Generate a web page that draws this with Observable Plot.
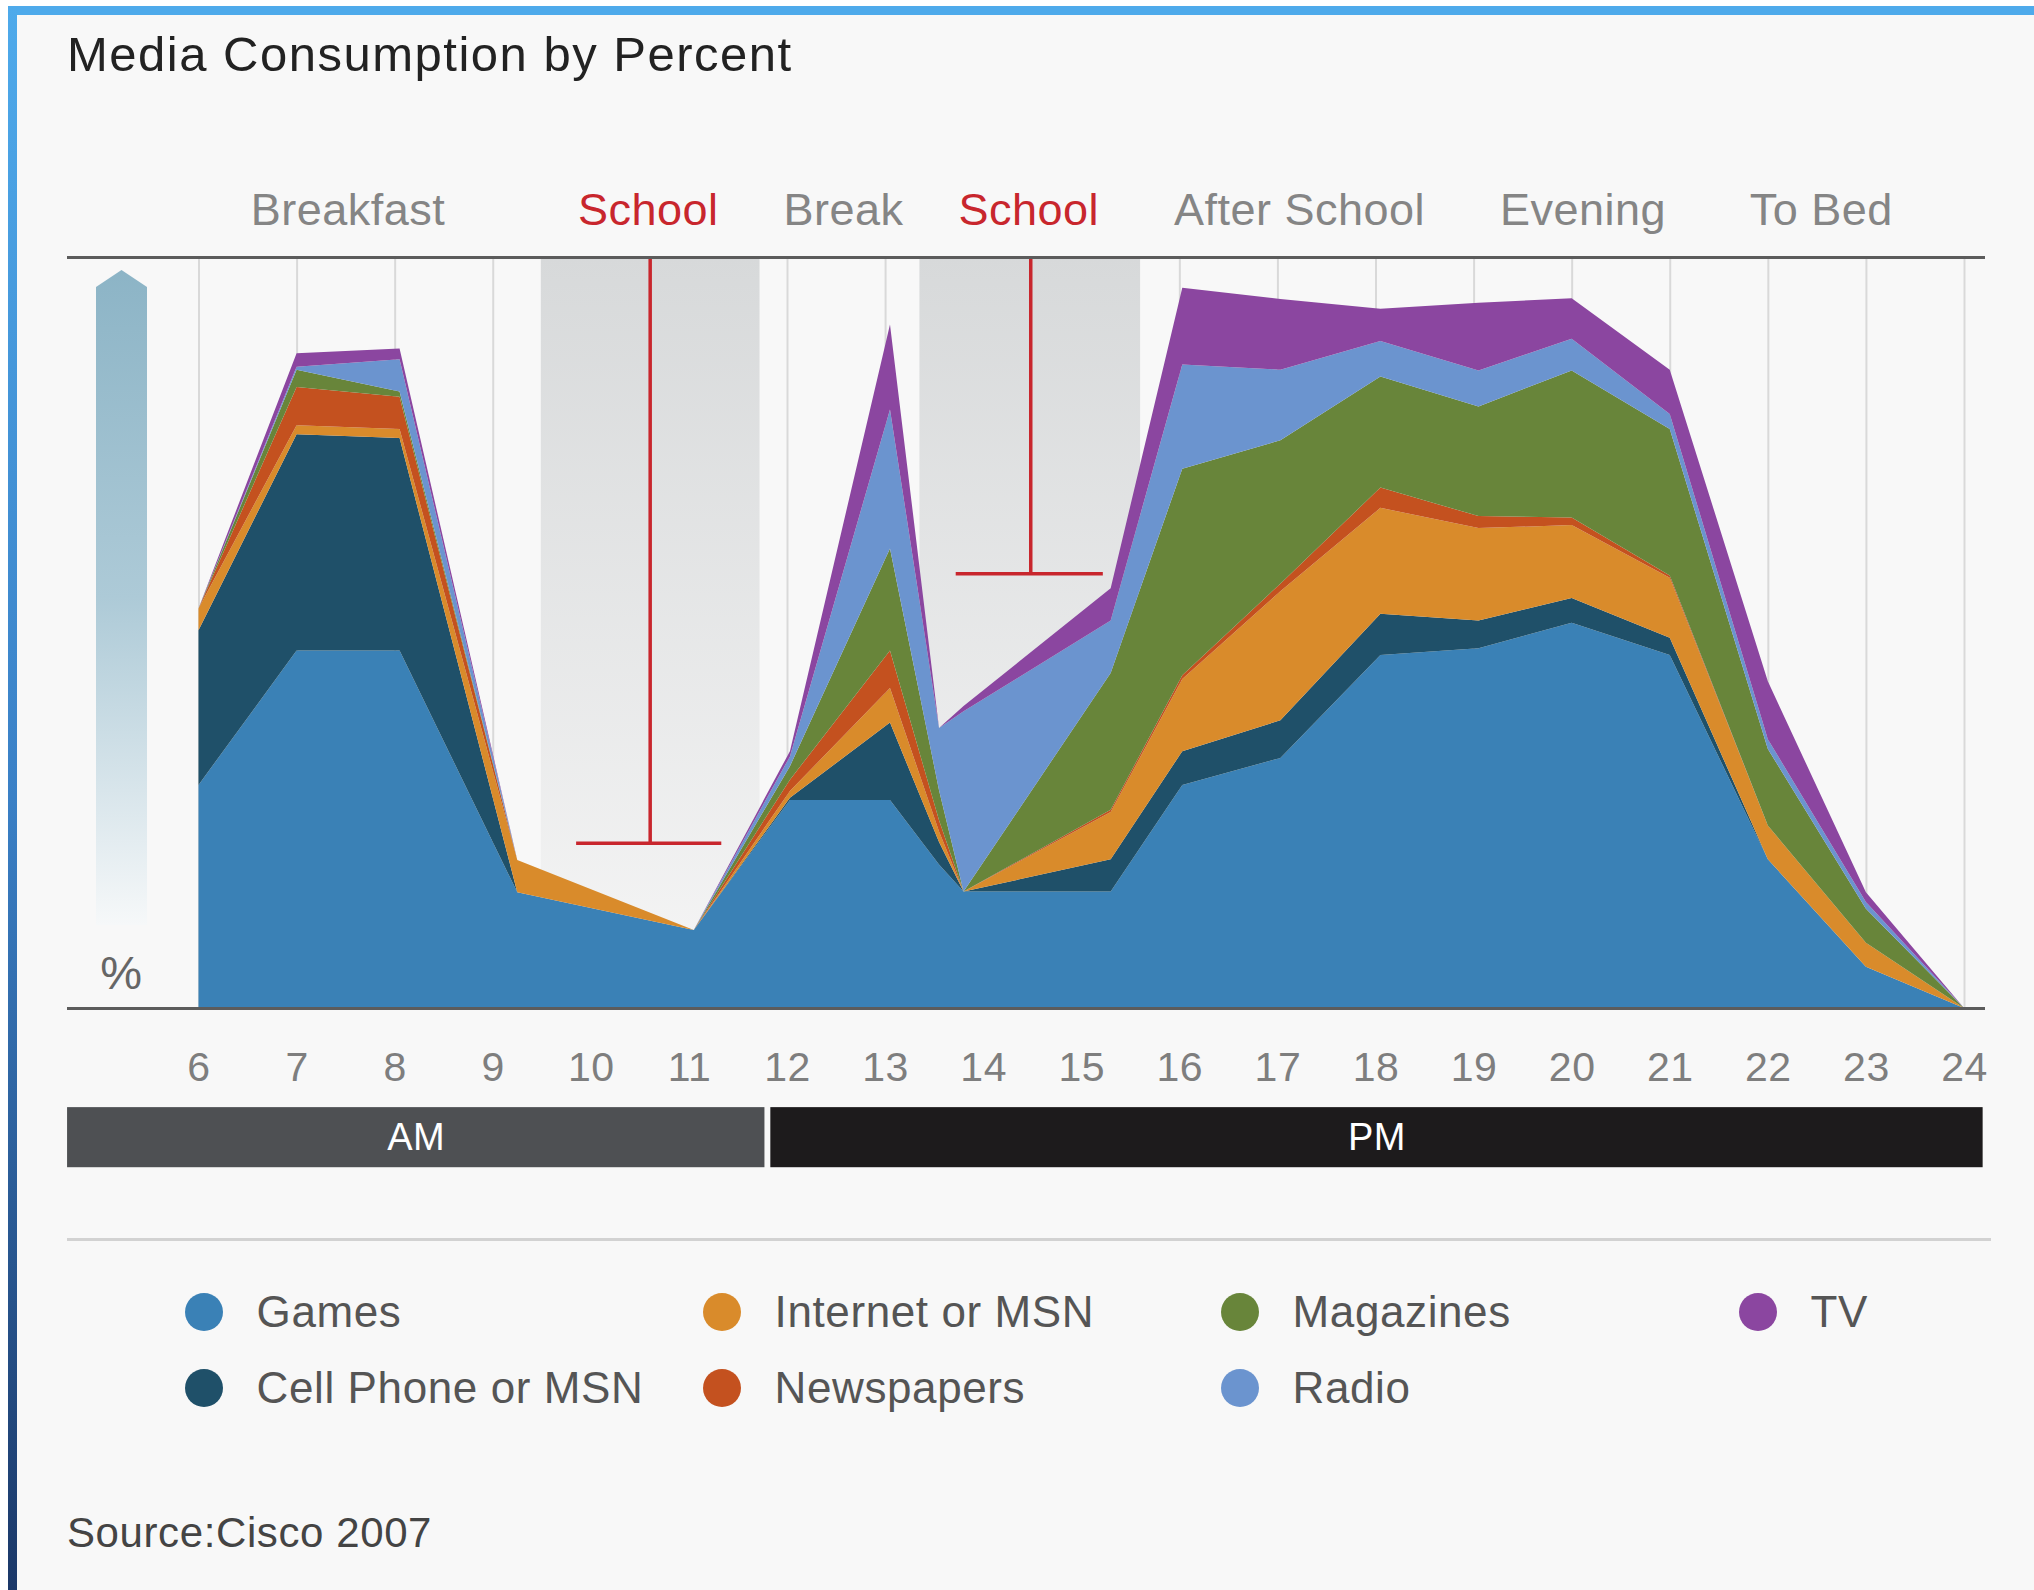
<!DOCTYPE html>
<html>
<head>
<meta charset="utf-8">
<script src="https://cdn.jsdelivr.net/npm/d3@7"></script>
<script src="https://cdn.jsdelivr.net/npm/@observablehq/plot@0.6"></script>
<style>
html, body { margin: 0; padding: 0; background: #ffffff; overflow: hidden; }
#page { position: relative; width: 2034px; height: 1590px; font-family: "Liberation Sans", Arial, Helvetica, sans-serif; }
#panel { position: absolute; left: 17px; top: 15px; right: 0; bottom: 0; background: #f8f8f8; }
#topbar { position: absolute; left: 8px; top: 6px; right: 0; height: 9px; background: #4eaaeb; }
#leftbar { position: absolute; left: 8px; top: 6px; width: 9px; bottom: 0; background: linear-gradient(#4eaaeb, #3a80c6 50%, #1b3868); }
#title { position: absolute; left: 67px; top: 29.5px; font-size: 49px; line-height: 49px; letter-spacing: 1.5px; color: #222; white-space: nowrap; }
#chart { position: absolute; left: 0; top: 150px; }
#arrow { position: absolute; left: 96px; top: 270px; width: 51px; height: 655px;
  clip-path: polygon(50% 0, 100% 17px, 100% 100%, 0 100%, 0 17px);
  background: linear-gradient(#8cb4c6, #adcad7 50%, #f6f8f9); }
#sep { position: absolute; left: 67px; width: 1924px; top: 1238px; height: 3px; background: #d2d2d2; }
.item { position: absolute; display: flex; align-items: center; height: 50px; white-space: nowrap; }
.dot { width: 38px; height: 38px; border-radius: 50%; margin-right: 34px; flex: none; }
.lab { font-size: 44px; line-height: 50px; letter-spacing: 0.6px; color: #555; }
#source { position: absolute; left: 67px; top: 1512px; font-size: 42px; line-height: 42px; letter-spacing: 0.6px; color: #444; white-space: nowrap; }
</style>
</head>
<body>
<svg width="0" height="0" style="position:absolute">
  <defs>
    <linearGradient id="bandGrad" x1="0" y1="0" x2="0" y2="1">
      <stop offset="0" stop-color="#d7d9da"/>
      <stop offset="1" stop-color="#f6f6f6"/>
    </linearGradient>
  </defs>
</svg>
<div id="page">
  <div id="panel"></div>
  <div id="topbar"></div>
  <div id="leftbar"></div>
  <div id="title">Media Consumption by Percent</div>
  <div id="arrow"></div>
  <div id="chart"></div>
  <div id="sep"></div>
  <div id="legend"></div>
  <div id="source">Source:Cisco 2007</div>
</div>
<script>
// ---- data ----
const hours     = [6,    7,    8.05, 9.25, 11.05, 12.03, 13.05, 13.55, 13.8, 15.3, 16.03, 17.03, 18.05, 19.05, 20,   21,   22,   23,  24];
const games     = [29.7, 47.6, 47.6, 15.4, 10.4,  27.7,  27.7,  19.1,  15.5, 15.5, 29.7,  33.3,  47.0,  47.9,  51.3, 47.0, 19.8, 5.5, 0];
const cellPhone = [20.6, 28.8, 28.3, 0,    0,     0.3,   10.3,  3.0,   0,    4.3,  4.5,   5.0,   5.5,   3.7,   3.3,  2.3,  0,    0,   0];
const internet  = [2.9,  1.2,  1.2,  4.3,  0,     0.9,   4.6,   1.4,   0,    6.3,  9.6,   17.2,  14.1,  12.3,  9.7,  8.0,  4.5,  3.2, 0];
const newspapers= [0,    5.1,  4.3,  0,    0,     1.5,   5.0,   1.5,   0,    0.3,  0.5,   1.0,   2.7,   1.6,   1.0,  0.3,  0,    0,   0];
const magazines = [0,    2.3,  0.7,  0,    0,     1.8,   13.6,  4.0,   0,    18.2, 27.5,  19.1,  14.8,  14.6,  19.6, 19.5, 10.2, 4.5, 0];
const radio     = [0,    0.4,  4.3,  0,    0,     1.3,   18.5,  8.3,   24.0, 7.0,  13.9,  9.4,   4.7,   4.8,   4.2,  2.0,  1.3,  0.9, 0];
const tv        = [0,    1.8,  1.4,  0,    0,     0.7,   11.3,  0,     0.7,  4.3,  10.2,  9.4,   4.3,   9.0,   5.4,  5.9,  7.7,  1.3, 0];

const seriesNames  = ["Games", "Cell Phone or MSN", "Internet or MSN", "Newspapers", "Magazines", "Radio", "TV"];
const seriesColors = ["#3a81b6", "#1f5069", "#d98b2b", "#c4511f", "#68853a", "#6b94cf", "#8b46a0"];
const seriesValues = [games, cellPhone, internet, newspapers, magazines, radio, tv];

const tickLabels = [6, 7, 8, 9, 10, 11, 12, 13, 14, 15, 16, 17, 18, 19, 20, 21, 22, 23, 24];

const sectionNames   = ["Breakfast", "School", "Break", "School", "After School", "Evening", "To Bed"];
const sectionCenters = [7.52, 10.58, 12.57, 14.46, 17.22, 20.11, 22.54];
const sectionKinds   = ["other", "school", "other", "school", "other", "other", "other"];

const bandStart = [9.49, 13.35];
const bandEnd   = [11.72, 15.6];

const schoolMarkX     = [10.6, 14.48];
const schoolMarkLevel = [22.0, 57.9];
const schoolMarkFrom  = [9.85, 13.72];
const schoolMarkTo    = [11.33, 15.22];

const periodNames  = ["AM", "PM"];
const periodFrom   = [4.66, 11.83];
const periodTo     = [11.77, 24.19];
const periodColors = ["#4e5053", "#1d1b1c"];

// ---- tables ----
const data = seriesNames.flatMap((s, i) => hours.map((h, j) => ({hour: h, series: s, value: seriesValues[i][j]})));
const sections = sectionNames.map((n, i) => ({name: n, center: sectionCenters[i], kind: sectionKinds[i]}));
const bands = bandStart.map((s, i) => ({from: s, to: bandEnd[i]}));
const schoolMarks = schoolMarkX.map((x, i) => ({x, level: schoolMarkLevel[i], from: schoolMarkFrom[i], to: schoolMarkTo[i]}));
const periods = periodNames.map((n, i) => ({name: n, from: periodFrom[i], to: periodTo[i], color: periodColors[i]}));

const red = "#c8262d";
const chart = Plot.plot({
  width: 2034,
  height: 1050,
  marginLeft: 67,
  marginRight: 49,
  marginTop: 107,
  marginBottom: 192,
  x: {domain: [6, 24], range: [198.5, 1964], axis: null},
  y: {domain: [0, 100], axis: null},
  color: {domain: seriesNames, range: seriesColors},
  style: {background: "transparent", fontFamily: "Liberation Sans, Arial, sans-serif", letterSpacing: "0.5px", overflow: "visible"},
  marks: [
    Plot.ruleX(tickLabels, {x: d => d, y1: 0, y2: 100, stroke: "#d9d9d9", strokeWidth: 2}),
    Plot.rect(bands, {x1: "from", x2: "to", y1: 0, y2: 100, fill: "url(#bandGrad)"}),
    Plot.areaY(data, {x: "hour", y: "value", z: "series", fill: "series"}),
    Plot.ruleX(schoolMarks, {x: "x", y1: "level", y2: 100, stroke: red, strokeWidth: 3.5}),
    Plot.ruleY(schoolMarks, {y: "level", x1: "from", x2: "to", stroke: red, strokeWidth: 3.5}),
    Plot.ruleY([100], {stroke: "#5c5c5c", strokeWidth: 3}),
    Plot.ruleY([0], {stroke: "#5c5c5c", strokeWidth: 3}),
    Plot.text(sections.filter(d => d.kind === "other"), {x: "center", y: 100, dy: -33, text: "name", lineAnchor: "bottom", fontSize: 45, fill: "#858585"}),
    Plot.text(sections.filter(d => d.kind === "school"), {x: "center", y: 100, dy: -33, text: "name", lineAnchor: "bottom", fontSize: 45, fill: red}),
    Plot.text(tickLabels, {x: d => d, y: 0, dy: 72, text: d => String(d), lineAnchor: "bottom", fontSize: 41, fill: "#7e7e7e"}),
    Plot.rect(periods.filter(d => d.name === "AM"), {x1: "from", x2: "to", y1: -13.2, y2: -21.2, fill: periodColors[0]}),
    Plot.rect(periods.filter(d => d.name === "PM"), {x1: "from", x2: "to", y1: -13.2, y2: -21.2, fill: periodColors[1]}),
    Plot.text(periods, {x: d => (d.from + d.to) / 2, y: -17.2, text: "name", fontSize: 38, fill: "#ffffff"}),
    Plot.text(["%"], {frameAnchor: "bottom-left", textAnchor: "middle", dx: 54, dy: -20, lineAnchor: "bottom", fontSize: 47, fill: "#666"})
  ]
});
document.getElementById("chart").appendChild(chart);

// ---- legend ----
const legend = d3.select("#legend");
seriesNames.forEach((s, i) => {
  const col = Math.floor(i / 2), row = i % 2;
  const item = legend.append("div").attr("class", "item")
    .style("left", (184.6 + col * 518) + "px")
    .style("top", (row === 0 ? 1286.8 : 1362.6) + "px");
  item.append("div").attr("class", "dot").style("background", seriesColors[i]);
  item.append("span").attr("class", "lab").text(s);
});
</script>
</body>
</html>
